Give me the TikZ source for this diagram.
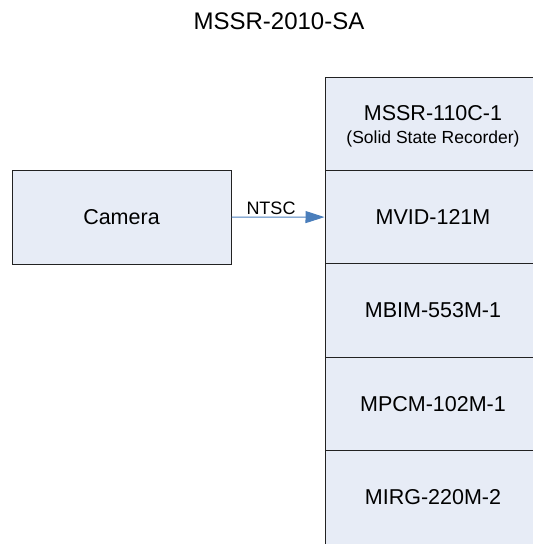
\documentclass[tikz,border=0pt]{standalone}
\usepackage{fontspec}
\setmainfont{Liberation Sans}
\usetikzlibrary{arrows.meta}
\definecolor{boxfill}{HTML}{E7ECF6}
\definecolor{arrowblue}{HTML}{4A7EBB}
\definecolor{boxline}{HTML}{222222}
\tikzset{
  box/.style={draw=boxline, line width=1pt, fill=boxfill, inner sep=0pt, align=center,
    font=\fontsize{21.5}{24}\selectfont},
  cam/.style={box, minimum width=219pt, minimum height=94pt},
  stackbox/.style={box, minimum width=216pt, minimum height=93.4pt},
  link/.style={draw=arrowblue, line width=1pt, -{Triangle[length=19pt,width=12pt]}},
  lbl/.style={inner sep=0pt, font=\fontsize{18}{20}\selectfont},
}
\begin{document}
\begin{tikzpicture}[x=1pt,y=-1pt]
\useasboundingbox (0,0) rectangle (533,544);
\clip (0,0) rectangle (533,544);
\node[inner sep=0pt, font=\fontsize{24}{26}\selectfont] (title) at (279,21) {MSSR-2010-SA};
\node[cam] (camera) at (121.5,217) {Camera};
\node[stackbox] (mssr) at (433,123.7) {};
\node[inner sep=0pt, align=center, font=\fontsize{21.5}{24}\selectfont] (mssrtext) at (433,126.5)
  {MSSR-110C-1\\[-1.5pt]{\fontsize{17.5}{20}\selectfont (Solid State Recorder)}};
\node[stackbox] (mvid) at (433,217.1) {MVID-121M};
\node[stackbox] (mbim) at (433,310.5) {MBIM-553M-1};
\node[stackbox] (mpcm) at (433,403.9) {MPCM-102M-1};
\node[stackbox] (mirg) at (433,497.3) {MIRG-220M-2};
\draw[link] (camera.east) -- (mvid.west);
\node[lbl] (ntsc) at (271,208) {NTSC};
\end{tikzpicture}
\end{document}
